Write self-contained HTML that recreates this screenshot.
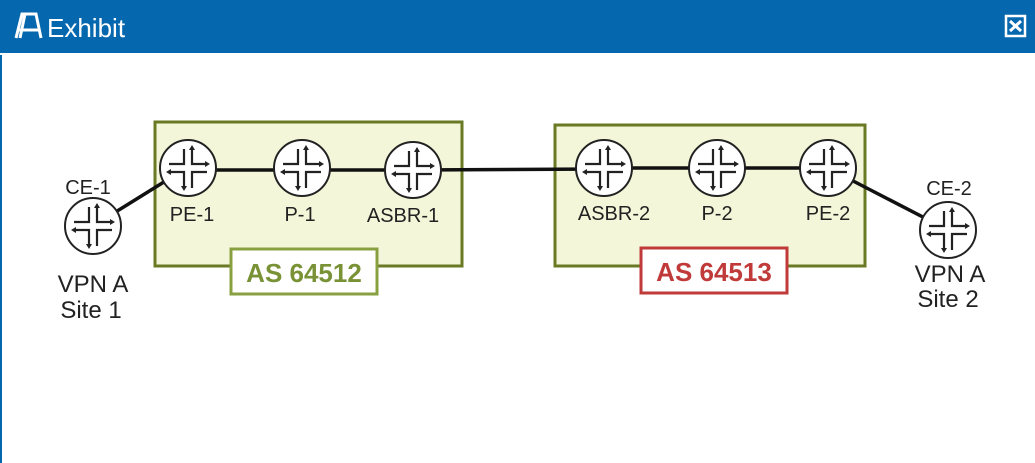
<!DOCTYPE html>
<html><head><meta charset="utf-8"><style>
html,body{margin:0;padding:0;width:1035px;height:463px;overflow:hidden;background:#fff;font-family:"Liberation Sans",sans-serif}
</style></head><body>
<svg width="1035" height="463" viewBox="0 0 1035 463" xmlns="http://www.w3.org/2000/svg" font-family="Liberation Sans, sans-serif">
<defs>
<g id="r">
<circle r="28" fill="#fff" stroke="#222" stroke-width="2"/>
<g stroke="#222" stroke-width="2.2" fill="none">
<path d="M-4,-19 V-4 H-19"/>
<path d="M4,-20 V-4 H19"/>
<path d="M-19,4 H-4 V19"/>
<path d="M19,4 H4 V20"/>
</g>
<g fill="#222">
<path d="M4,-23 l-3,5 h6z"/>
<path d="M22,-4 l-5,-3 v6z"/>
<path d="M-22,4 l5,-3 v6z"/>
<path d="M-4,23 l-3,-5 h6z"/>
</g>
</g>
</defs>
<rect x="0" y="0" width="1035" height="54" fill="#0567ae"/>
<rect x="0" y="53" width="1035" height="2" fill="#fff"/>
<rect x="0" y="55" width="2" height="408" fill="#0567ae"/>
<path d="M16,38 L22,14 H36 L41,38 M18,30 H39 M25,14 L20,38" stroke="#fff" stroke-width="3" fill="none"/>
<text x="47" y="37" fill="#fff" font-size="26">Exhibit</text>
<rect x="1006" y="16" width="19" height="20" fill="none" stroke="#fff" stroke-width="2.5"/>
<path d="M1010,21 L1021,31 M1021,21 L1010,31" stroke="#fff" stroke-width="3"/>

<rect x="155" y="122" width="307" height="144" fill="#f3f6d8" stroke="#6a7a24" stroke-width="3"/>
<rect x="555" y="125" width="310" height="141" fill="#f3f6d8" stroke="#6a7a24" stroke-width="3"/>

<g stroke="#111" stroke-width="3.5">
<line x1="93" y1="226" x2="188" y2="167"/>
<line x1="188" y1="170" x2="413" y2="170"/>
<line x1="413" y1="170" x2="604" y2="169"/>
<line x1="604" y1="168" x2="828" y2="168"/>
<line x1="828" y1="168" x2="948" y2="230"/>
</g>
<use href="#r" x="93" y="226"/>
<use href="#r" x="188" y="168"/>
<use href="#r" x="302" y="168"/>
<use href="#r" x="413" y="170"/>
<use href="#r" x="604" y="168"/>
<use href="#r" x="717" y="168"/>
<use href="#r" x="828" y="168"/>
<use href="#r" x="948" y="230"/>

<g fill="#222" font-size="20" text-anchor="middle">
<text x="88" y="194">CE-1</text>
<text x="192" y="221">PE-1</text>
<text x="300" y="221">P-1</text>
<text x="403" y="222">ASBR-1</text>
<text x="93" y="292" font-size="24">VPN A</text>
<text x="91" y="318" font-size="24">Site 1</text>
<text x="614" y="220">ASBR-2</text>
<text x="717" y="220">P-2</text>
<text x="828" y="220">PE-2</text>
<text x="949" y="195">CE-2</text>
<text x="950" y="282" font-size="24">VPN A</text>
<text x="948" y="307" font-size="24">Site 2</text>
</g>

<rect x="231" y="249" width="146" height="45" fill="#fff" stroke="#88a040" stroke-width="3"/>
<text x="304" y="282" text-anchor="middle" font-size="26" font-weight="bold" fill="#7a9236">AS 64512</text>
<rect x="641" y="248" width="146" height="45" fill="#fff" stroke="#c03a3a" stroke-width="3"/>
<text x="714" y="281" text-anchor="middle" font-size="26" font-weight="bold" fill="#c03a3a">AS 64513</text>
</svg>
</body></html>
